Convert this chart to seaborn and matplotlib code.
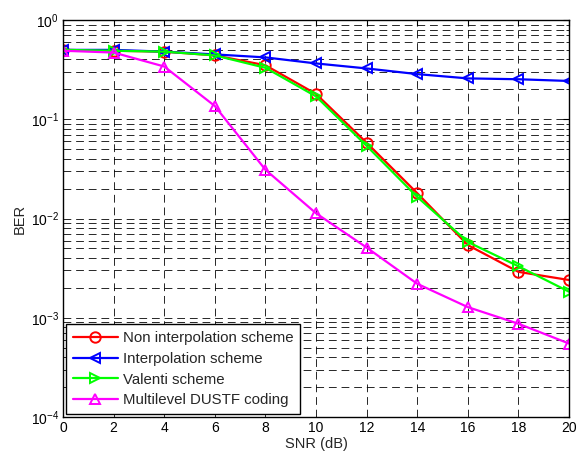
import matplotlib
matplotlib.use("Agg")
import matplotlib.pyplot as plt
import seaborn as sns
import numpy as np
from matplotlib.ticker import LogLocator, FixedLocator

snr = [0, 2, 4, 6, 8, 10, 12, 14, 16, 18, 20]
non_interp = [0.50, 0.49, 0.48, 0.44, 0.35, 0.18, 0.058, 0.018, 0.0054, 0.0029, 0.0024]
interp = [0.50, 0.50, 0.48, 0.45, 0.42, 0.365, 0.325, 0.285, 0.258, 0.253, 0.243]
valenti = [0.50, 0.49, 0.48, 0.44, 0.33, 0.17, 0.054, 0.0165, 0.0058, 0.0033, 0.00183]
multilevel = [0.49, 0.47, 0.34, 0.136, 0.031, 0.0113, 0.0051, 0.0022, 0.00128, 0.00087, 0.00055]

labels = ["Non interpolation scheme", "Interpolation scheme", "Valenti scheme", "Multilevel DUSTF coding"]
colors = ["#ff0000", "#0000ff", "#00ff00", "#ff00ff"]
markers = ["o", "<", ">", "^"]
series = [non_interp, interp, valenti, multilevel]

sns.set_style("white")
plt.rcParams["font.family"] = ["Liberation Sans", "DejaVu Sans"]
plt.rcParams["mathtext.default"] = "regular"

fig = plt.figure(figsize=(5.77, 4.59), dpi=100)
ax = fig.add_axes([63/577, 42/459, 506/577, 397/459])

for vals, lab, c, m in zip(series, labels, colors, markers):
    sns.lineplot(x=snr, y=vals, ax=ax, color=c, marker=m, markersize=7.5,
                 markerfacecolor="none", markeredgecolor=c, markeredgewidth=1.4,
                 linewidth=1.6, label=lab)

ax.set_yscale("log")
ax.set_xlim(0, 20)
ax.set_ylim(1e-4, 1)
ax.xaxis.set_major_locator(FixedLocator(snr))
ax.yaxis.set_major_locator(LogLocator(base=10, numticks=10))
ax.yaxis.set_minor_locator(LogLocator(base=10, subs=np.arange(2, 10), numticks=20))

gkw = dict(color="black", linestyle=(0, (8, 5)), linewidth=0.7, alpha=0.85)
ax.grid(True, which="major", axis="both", **gkw)
ax.grid(True, which="minor", axis="y", **gkw)
ax.set_axisbelow(True)

for s in ax.spines.values():
    s.set_visible(True)
    s.set_color("black")
    s.set_linewidth(1.0)

ax.tick_params(which="both", direction="in", top=True, right=True, labelsize=10, colors="black")
ax.tick_params(which="major", length=4, pad=3)
ax.tick_params(which="minor", length=2)

ax.set_xlabel("SNR (dB)", fontsize=10.5, labelpad=1)
ax.set_ylabel("BER", fontsize=10.5, labelpad=3)

leg = ax.legend(loc="lower left", fontsize=10.8, frameon=True, fancybox=False,
                edgecolor="black", framealpha=1, borderaxespad=0.2,
                handlelength=3.0, handletextpad=0.35, labelspacing=0.45, borderpad=0.45)
leg.get_frame().set_linewidth(1.0)

fig.savefig("out.png", dpi=100)
